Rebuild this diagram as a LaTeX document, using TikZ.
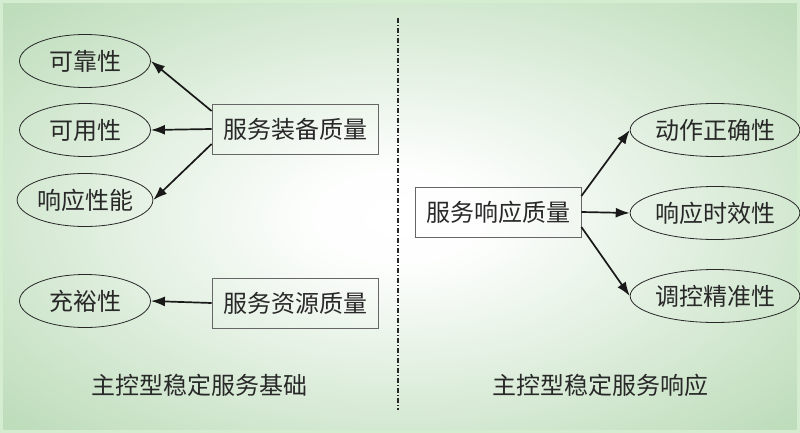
\documentclass[tikz,border=0pt]{standalone}
\usepackage{fontspec}
\setmainfont{Noto Sans CJK SC}
\usetikzlibrary{shapes.geometric, arrows.meta}

\definecolor{bggreen}{RGB}{190,221,187}
\definecolor{bgedge}{RGB}{212,236,208}
\definecolor{inkgray}{RGB}{40,40,40}
\pgfdeclareradialshading{bgglow}{\pgfpoint{0bp}{0bp}}{%
  color(0bp)=(white); color(6bp)=(white!96!bggreen);
  color(34bp)=(bggreen); color(100bp)=(bggreen)}

\begin{document}
\begin{tikzpicture} [
            x=1pt, y=-1pt,
            font=\fontsize{24}{24}\selectfont,
            text=inkgray,
            aspect/.style  = { ellipse, draw=inkgray, thick,
                               minimum width=131pt, minimum height=53pt,
                               inner sep=0pt },
            quality/.style = { rectangle, draw=black!60, thick,
                               minimum width=166pt, minimum height=50pt,
                               inner sep=0pt },
            line/.style    = { draw=black!90, line width=1.7pt,
                               -{Latex[length=14pt, width=10pt]} },
            divider/.style = { draw=black!85, line width=1.2pt,
                               dash pattern=on 5pt off 2pt on 1pt off 2pt },
          ]
          % background
          \shade [shading=bgglow] (0,0) rectangle (800,433);
          \draw [bgedge, line width=3pt] (1.5,1.5) rectangle (798.5,431.5);
          \useasboundingbox (0,0) rectangle (800,433);

          % left half: service basis
          \node (rel)   [aspect]  at (85,61)   {可靠性};
          \node (avail) [aspect]  at (85,130)  {可用性};
          \node (perf)  [aspect]  at (85,200)  {响应性能};
          \node (ample) [aspect]  at (85,301)  {充裕性};
          \node (equip) [quality] at (295,129) {服务装备质量};
          \node (res)   [quality] at (295,303) {服务资源质量};
          \node (basis)           at (199,385) {主控型稳定服务基础};

          % right half: service response
          \node (resp)  [quality] at (498,212) {服务响应质量};
          \node (act)   [aspect]  at (715,130) {动作正确性};
          \node (time)  [aspect]  at (715,213) {响应时效性};
          \node (prec)  [aspect]  at (715,296) {调控精准性};
          \node (respl)           at (600,385) {主控型稳定服务响应};

          \coordinate (divtop) at (398,18);
          \coordinate (divbot) at (398,410);
          \draw [divider] (divtop) -- (divbot);

          \draw [line] ([yshift=18pt]equip.west)  -- (rel.east);
          \draw [line] (equip.west)               -- (avail.east);
          \draw [line] ([yshift=-15pt]equip.west) -- (perf.east);
          \draw [line] (res.west)                 -- (ample.east);
          \draw [line] ([yshift=16pt]resp.east)   -- (act.west);
          \draw [line] (resp.east)                -- (time.west);
          \draw [line] ([yshift=-15pt]resp.east)  -- (prec.west);
        \end{tikzpicture}
\end{document}
